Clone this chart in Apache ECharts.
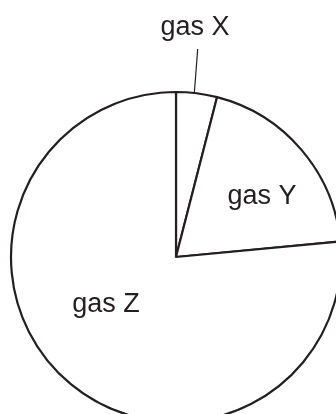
<!DOCTYPE html>
<html>
<head>
<meta charset="utf-8">
<script src="https://cdn.jsdelivr.net/npm/echarts@6/dist/echarts.min.js"></script>
<style>
  html, body { margin: 0; padding: 0; background: #fff; }
  #chart { width: 336px; height: 414px; }
</style>
</head>
<body>
<div id="chart"></div>
<script>
// gas share (percent)
var gasNames = ['gas X', 'gas Y', 'gas Z'];
var gasValues = [4, 19.5, 76.5];
// where each label sits
var labelSpots = [[195, 28], [262, 197], [106, 305]];

var chart = echarts.init(document.getElementById('chart'));

var data = gasNames.map(function (n, i) {
    return { name: n, value: gasValues[i] };
});

var option = {
    animation: false,
    series: [
        {
            type: 'pie',
            center: [176, 257],
            radius: 165,
            startAngle: 90,
            clockwise: true,
            avoidLabelOverlap: false,
            silent: true,
            itemStyle: {
                color: '#ffffff',
                borderColor: '#231f20',
                borderWidth: 2.2
            },
            label: {
                show: true,
                position: 'inside',
                formatter: '{b}',
                color: '#231f20',
                fontFamily: 'Liberation Sans, Arial, sans-serif',
                fontSize: 27
            },
            labelLine: { show: false },
            labelLayout: function (p) {
                var s = labelSpots[p.dataIndex];
                return { x: s[0], y: s[1], align: 'center', verticalAlign: 'middle' };
            },
            data: data
        }
    ],
    graphic: [
        // leader from the gas X label into its slice
        {
            type: 'line',
            shape: { x1: 197.7, y1: 49, x2: 192.7, y2: 114 },
            style: { stroke: '#231f20', lineWidth: 1.2 }
        }
    ]
};
chart.setOption(option);
</script>
</body>
</html>
